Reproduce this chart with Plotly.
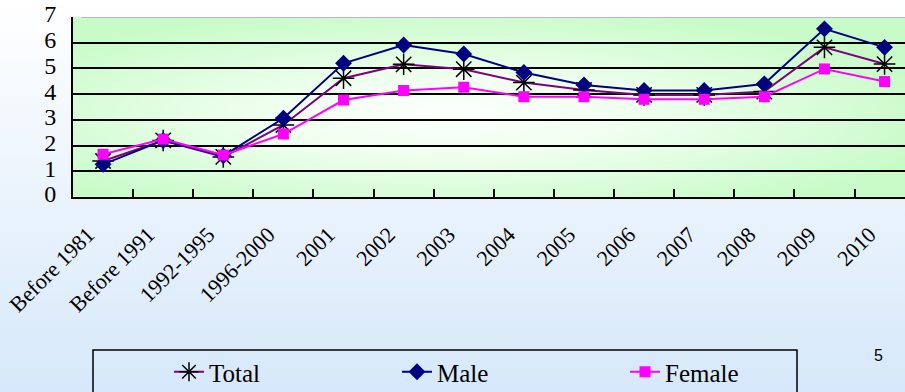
import base64
import plotly.graph_objects as go

categories = ["Before 1981", "Before 1991", "1992-1995", "1996-2000", "2001", "2002",
              "2003", "2004", "2005", "2006", "2007", "2008", "2009", "2010"]
total = [1.40, 2.20, 1.56, 2.80, 4.62, 5.16, 4.97, 4.45, 4.16, 3.97, 3.97, 4.10, 5.82, 5.17]
male = [1.27, 2.20, 1.60, 3.06, 5.20, 5.91, 5.56, 4.84, 4.36, 4.14, 4.14, 4.40, 6.54, 5.82]
female = [1.66, 2.25, 1.63, 2.45, 3.77, 4.14, 4.27, 3.90, 3.90, 3.80, 3.80, 3.90, 4.98, 4.49]
y_ticks = [0, 1, 2, 3, 4, 5, 6, 7]

W, H = 905, 392
ML, MT, MB = 73, 17, 195
PW = W - ML
PH = H - MT - MB


def svg_uri(svg):
    return "data:image/svg+xml;base64," + base64.b64encode(svg.encode()).decode()


page_svg = ('<svg xmlns="http://www.w3.org/2000/svg" width="100" height="100" preserveAspectRatio="none">'
            '<defs><linearGradient id="g" x1="0" y1="0" x2="0" y2="1">'
            '<stop offset="0" stop-color="#ffffff"/><stop offset="1" stop-color="#d6e8fa"/>'
            '</linearGradient></defs><rect width="100" height="100" fill="url(#g)"/></svg>')
plot_svg = ('<svg xmlns="http://www.w3.org/2000/svg" width="100" height="100" preserveAspectRatio="none">'
            '<defs><radialGradient id="r" cx="0.45" cy="0.55" r="0.6">'
            '<stop offset="0" stop-color="#fcfffc"/><stop offset="0.35" stop-color="#f0fff0"/>'
            '<stop offset="1" stop-color="#c8fbc8"/>'
            '</radialGradient></defs><rect width="100" height="100" fill="url(#r)"/></svg>')

fig = go.Figure()
fig.add_trace(go.Scatter(
    x=categories, y=total, name="Total", mode="lines+markers",
    line=dict(color="#800080", width=2),
    marker=dict(symbol="asterisk-open", size=18, color="#000000",
                line=dict(color="#000000", width=1.5))))
fig.add_trace(go.Scatter(
    x=categories, y=male, name="Male", mode="lines+markers",
    line=dict(color="#000080", width=2),
    marker=dict(symbol="diamond", size=13, color="#000080")))
fig.add_trace(go.Scatter(
    x=categories, y=female, name="Female", mode="lines+markers",
    line=dict(color="#ff00ff", width=2),
    marker=dict(symbol="square", size=11, color="#ff00ff")))

fig.update_layout(
    width=W, height=H,
    margin=dict(l=ML, r=0, t=MT, b=MB),
    paper_bgcolor="#e6f1fc",
    plot_bgcolor="rgba(0,0,0,0)",
    font=dict(family="Liberation Serif", color="#000000"),
    images=[
        dict(source=svg_uri(page_svg), xref="paper", yref="paper",
             x=-ML / PW, y=1 + MT / PH, sizex=W / PW, sizey=H / PH,
             sizing="stretch", layer="below", xanchor="left", yanchor="top"),
        dict(source=svg_uri(plot_svg), xref="paper", yref="paper",
             x=0, y=1, sizex=841 / PW, sizey=1,
             sizing="stretch", layer="below", xanchor="left", yanchor="top"),
    ],
    xaxis=dict(
        type="category", range=[-0.5, 13.34], tickson="boundaries",
        ticks="inside", ticklen=8, tickwidth=2, tickcolor="#000000",
        showgrid=False, showline=True, linecolor="#000000", linewidth=2,
        tickangle=-45, tickfont=dict(family="Liberation Serif", size=22),
        ticklabelstandoff=14, ticklabelshift=-15, zeroline=False),
    yaxis=dict(
        range=[0, 7], tickvals=y_ticks, ticks="inside", ticklen=7, tickwidth=2,
        tickcolor="#000000", showgrid=True, gridcolor="#000000", gridwidth=2,
        showline=True, linecolor="#000000", linewidth=2, zeroline=False,
        tickfont=dict(family="Liberation Serif", size=24), ticklabelstandoff=10,
        ticklabelshift=-3),
    shapes=[
        dict(type="line", xref="paper", yref="y", x0=0.01, x1=1, y0=7, y1=7,
             line=dict(color="#b4b4e6", width=2)),
        dict(type="rect", xref="paper", yref="paper",
             x0=(93 - ML) / PW, x1=(797 - ML) / PW,
             y0=(H - MB - 350) / PH, y1=(H - MB - 420) / PH,
             line=dict(color="#000000", width=1.5), fillcolor="rgba(0,0,0,0)"),
    ],
    legend=dict(
        orientation="h", xref="container", yref="container",
        x=169 / W, xanchor="left", y=(H - 349) / H, yanchor="top",
        bgcolor="rgba(0,0,0,0)", borderwidth=0,
        font=dict(family="Liberation Serif", size=25, color="#000000"),
        entrywidth=183, entrywidthmode="pixels", itemwidth=30),
    annotations=[
        dict(text="5", xref="paper", yref="paper", x=(885 - ML) / PW,
             y=(H - MB - 366) / PH, showarrow=False,
             font=dict(family="Liberation Sans", size=16, color="#000000"))
    ],
    showlegend=True,
)

fig.write_html("out.html", config={"displayModeBar": False},
               post_script="document.body.style.margin='0px';document.body.style.overflow='hidden';")
